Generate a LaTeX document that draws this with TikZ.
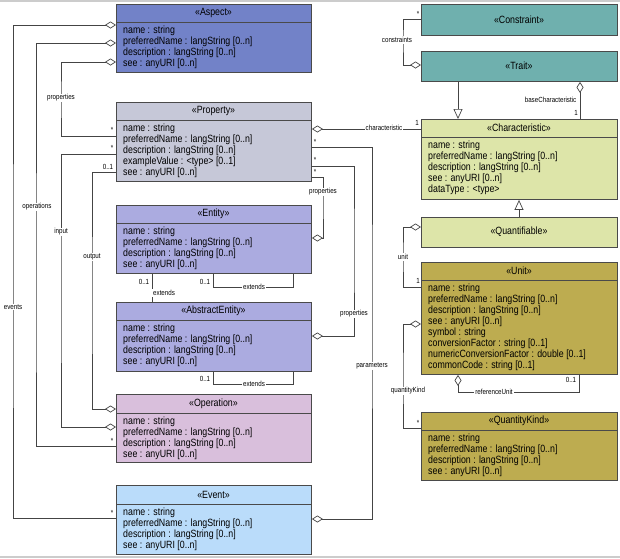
\documentclass[tikz,border=0pt]{standalone}
\usepackage{fontspec}
\setmainfont{Liberation Sans}[FakeStretch=0.84]
\usetikzlibrary{arrows.meta,shadows}
\definecolor{cAspect}{HTML}{7282C8}
\definecolor{cProperty}{HTML}{C6C8D8}
\definecolor{cEntity}{HTML}{ABABE0}
\definecolor{cOperation}{HTML}{D9BFDC}
\definecolor{cEvent}{HTML}{BADCFA}
\definecolor{cTeal}{HTML}{6FB0AE}
\definecolor{cChar}{HTML}{DDE5A9}
\definecolor{cUnit}{HTML}{BDAC50}
\definecolor{boxedge}{HTML}{4A4A4A}
\definecolor{lineclr}{HTML}{444444}
\tikzset{
  classbox/.style={draw=boxedge, line width=0.9pt, anchor=north west, inner sep=0pt,
    general shadow={shadow xshift=1pt, shadow yshift=-1pt, fill=black!50}},
  divline/.style={draw=boxedge, line width=0.9pt},
  ctitle/.style={font=\fontsize{10.5}{11}\selectfont, inner sep=0pt},
  cattr/.style={font=\fontsize{10.5}{11}\selectfont, align=left, anchor=north west, inner sep=0pt},
  conn/.style={draw=lineclr, line width=0.7pt},
  lbl/.style={font=\fontsize{7.4}{8}\selectfont, fill=white, inner sep=1pt},
  mult/.style={font=\fontsize{7.4}{8}\selectfont, inner sep=0.5pt},
  agg/.style={{Diamond[open,length=11pt,width=7pt]}-},
  gen/.style={-{Triangle[open,length=10pt,width=9pt]}},
}
% name, x1, y1, x2, y2, ydiv, colour, title, attributes
\newcommand\umlclass[9]{%
  \node[classbox, fill=#7, minimum width={(#4-#2)*1pt}, minimum height={(#5-#3)*1pt}] (#1) at (#2,#3) {};
  \draw[divline] (#1.west |- 0,#6) -- (#1.east |- 0,#6);
  \node[ctitle] (#1-title) at ({(#2+#4)/2},{(#3+#6)/2}) {«#8»};
  \node[cattr] (#1-attrs) at (#2+7,#6+3.5) {#9};
}
% name, x1, y1, x2, y2, colour, title
\newcommand\umlsimple[7]{%
  \node[classbox, fill=#6, minimum width={(#4-#2)*1pt}, minimum height={(#5-#3)*1pt}] (#1) at (#2,#3) {};
  \node[ctitle] (#1-title) at ({(#2+#4)/2},{(#3+#5)/2}) {«#7»};
}
\begin{document}
\begin{tikzpicture}[x=1pt,y=-1pt]
\useasboundingbox (0,0) rectangle (620,558);
\fill[black!20] (0,0) rectangle (620,1.5);
\fill[black!20] (0,555.5) rectangle (620,557.5);

% ---------- left column ----------
\umlclass{Aspect}{116}{4}{311}{72}{22}{cAspect}{Aspect}
  {name : string\\preferredName : langString [0..n]\\description : langString [0..n]\\see : anyURI [0..n]}
\umlclass{Property}{116}{102}{311}{181}{120}{cProperty}{Property}
  {name : string\\preferredName : langString [0..n]\\description : langString [0..n]\\exampleValue : <type> [0..1]\\see : anyURI [0..n]}
\umlclass{Entity}{116}{205}{311}{273}{223}{cEntity}{Entity}
  {name : string\\preferredName : langString [0..n]\\description : langString [0..n]\\see : anyURI [0..n]}
\umlclass{AbstractEntity}{116}{302}{311}{371}{320}{cEntity}{AbstractEntity}
  {name : string\\preferredName : langString [0..n]\\description : langString [0..n]\\see : anyURI [0..n]}
\umlclass{Operation}{116}{394}{311}{462}{413}{cOperation}{Operation}
  {name : string\\preferredName : langString [0..n]\\description : langString [0..n]\\see : anyURI [0..n]}
\umlclass{Event}{116}{485}{311}{554}{504}{cEvent}{Event}
  {name : string\\preferredName : langString [0..n]\\description : langString [0..n]\\see : anyURI [0..n]}

% ---------- right column ----------
\umlsimple{Constraint}{421}{4}{617}{35}{cTeal}{Constraint}
\umlsimple{Trait}{421}{51}{617}{81}{cTeal}{Trait}
\umlclass{Characteristic}{421}{119}{617}{199}{137}{cChar}{Characteristic}
  {name : string\\preferredName : langString [0..n]\\description : langString [0..n]\\see : anyURI [0..n]\\dataType : <type>}
\umlsimple{Quantifiable}{421}{217}{617}{247}{cChar}{Quantifiable}
\umlclass{Unit}{421}{262}{617}{374}{280}{cUnit}{Unit}
  {name : string\\preferredName : langString [0..n]\\description : langString [0..n]\\see : anyURI [0..n]\\symbol : string\\conversionFactor : string [0..1]\\numericConversionFactor : double [0..1]\\commonCode : string [0..1]}
\umlclass{QuantityKind}{421}{412}{617}{480}{430}{cUnit}{QuantityKind}
  {name : string\\preferredName : langString [0..n]\\description : langString [0..n]\\see : anyURI [0..n]}

% ---------- connectors, left side ----------
\draw[conn,agg] (Aspect.west |- 0,25) -| (13,300) |- (Event.west |- 0,518);
\draw[conn,agg] (Aspect.west |- 0,43) -| (36,300) |- (Operation.west |- 0,446);
\draw[conn,agg] (Aspect.west |- 0,62) -| (61,100) |- (Property.west |- 0,136);
\draw[conn,agg] (Operation.west |- 0,427) -| (61,300) |- (Property.west |- 0,154);
\draw[conn,agg] (Operation.west |- 0,409) -| (92,300) |- (Property.west |- 0,172);

\node[mult] (m-events) at (112,513) {*};
\node[mult] (m-oper) at (112,441) {*};
\node[mult] (m-props) at (112,130) {*};
\node[mult] (m-input) at (112,148) {*};
\node[mult] (m-output) at (108,167) {0..1};

\node[lbl] (l-events) at (13,307) {events};
\node[lbl] (l-oper) at (37,207) {operations};
\node[lbl] (l-props) at (61,98) {properties};
\node[lbl] (l-input) at (61,232) {input};
\node[lbl] (l-output) at (92,257) {output};

% ---------- connectors, middle ----------
\draw[conn,agg] (Property.east |- 0,129) -- (Characteristic.west |- 0,129);
\draw[conn,agg] (Event.east |- 0,519) -| (372,300) |- (Property.east |- 0,147);
\draw[conn,agg] (AbstractEntity.east |- 0,336) -| (354,250) |- (Property.east |- 0,166);
\draw[conn,agg] (Entity.east |- 0,238) -| (323,200) |- (Property.east |- 0,177);

\node[mult] (m-char) at (417,123) {1};
\node[mult] (m-param) at (315,142) {*};
\node[mult] (m-aeprops) at (315,160) {*};
\node[mult] (m-enprops) at (315,172) {*};

\node[lbl] (l-char) at (384,128) {characteristic};
\node[lbl] (l-param) at (372,366) {parameters};
\node[lbl] (l-aeprops) at (354,314) {properties};
\node[lbl] (l-enprops) at (323,192) {properties};

% ---------- extends ----------
\draw[conn] (Entity.south -| 152,0) -- (AbstractEntity.north -| 152,0);
\draw[conn] (Entity.south -| 213,0) |- (253,287) -| (Entity.south -| 293,0);
\draw[conn] (AbstractEntity.south -| 213,0) |- (253,384) -| (AbstractEntity.south -| 293,0);

\node[mult] (m-ext1) at (144,282) {0..1};
\node[mult] (m-ext2) at (205,282) {0..1};
\node[mult] (m-ext3) at (205,379) {0..1};
\node[lbl, anchor=west] (l-ext1) at (152,293) {extends};
\node[lbl] (l-ext2) at (254,287) {extends};
\node[lbl] (l-ext3) at (254,384) {extends};

% ---------- connectors, right side ----------
\draw[conn,agg] (Trait.west |- 0,65) -| (403,40) |- (Constraint.west |- 0,19);
\draw[conn,gen] (Trait.south -| 458,0) -- (Characteristic.north -| 458,0);
\draw[conn,agg] (Trait.south -| 580,0) -- (Characteristic.north -| 580,0);
\draw[conn,gen] (Quantifiable.north -| 519,0) -- (Characteristic.south -| 519,0);
\draw[conn,agg] (Quantifiable.west |- 0,227) -| (403,257) |- (Unit.west |- 0,287);
\draw[conn,agg] (Unit.west |- 0,324) -| (403,380) |- (QuantityKind.west |- 0,428);
\draw[conn,agg] (Unit.south -| 458,0) |- (520,392) -| (Unit.south -| 579,0);

\node[mult] (m-constr) at (418,14) {*};
\node[mult] (m-base) at (576,113) {1};
\node[mult] (m-unit) at (418,281) {1};
\node[mult] (m-qk) at (418,423) {*};
\node[mult] (m-ref) at (571,380) {0..1};

\node[lbl] (l-constr) at (397,40) {constraints};
\node[mult, anchor=east] (l-base) at (577,100) {baseCharacteristic};
\node[lbl] (l-unit) at (403,257) {unit};
\node[lbl] (l-qk) at (408,391) {quantityKind};
\node[lbl] (l-ref) at (494,392) {referenceUnit};
\end{tikzpicture}
\end{document}
